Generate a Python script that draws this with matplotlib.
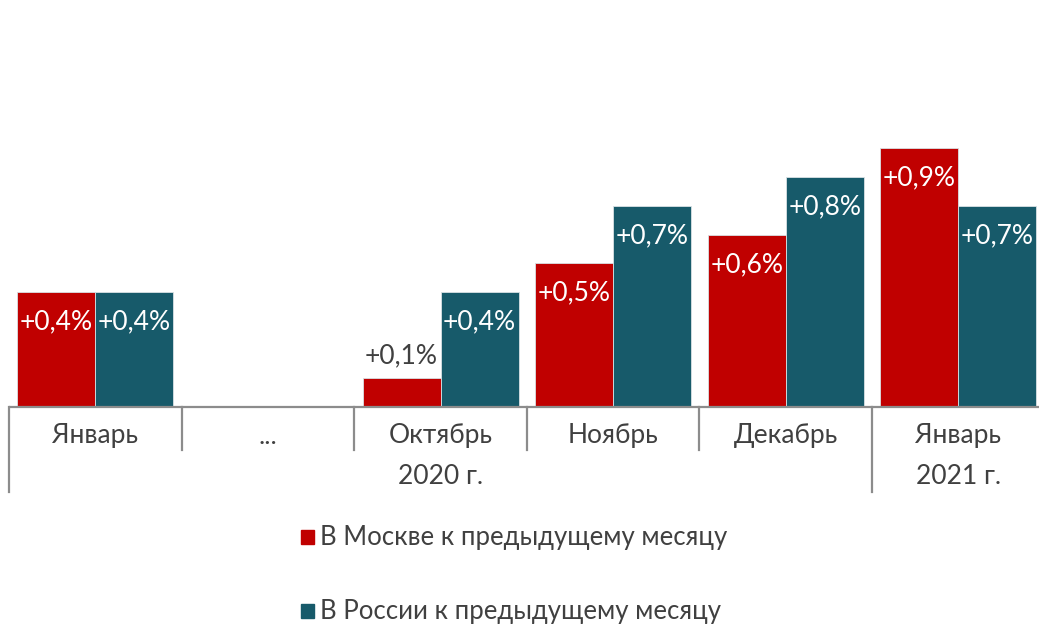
import matplotlib
matplotlib.use("Agg")
import matplotlib.pyplot as plt
import matplotlib.transforms as mtransforms
import numpy as np

categories = ["Январь", "...", "Октябрь", "Ноябрь", "Декабрь", "Январь"]
years = ["2020 г.", "2021 г."]
year_spans = [(0, 4), (5, 5)]
moscow = [0.4, None, 0.1, 0.5, 0.6, 0.9]
russia = [0.4, None, 0.4, 0.7, 0.8, 0.7]
series_names = ["В Москве к предыдущему месяцу", "В России к предыдущему месяцу"]

RED = "#C00000"
TEAL = "#175A6A"
GRAY = "#404040"
LINE = "#8C8C8C"

plt.rcParams['font.family'] = ['Lato', 'DejaVu Sans']
FW = "normal"

W, H = 1039, 625
fig = plt.figure(figsize=(W / 100, H / 100), dpi=100)
slot = 172.6
ax = fig.add_axes([9 / W, 1 - 407 / H, 6 * slot / W, 407 / H])
ax.set_xlim(-0.5, 5.5)
ax.set_ylim(0, 407 / 287.5)
ax.axis("off")

bw = 78 / slot
off = 39 / slot
x = np.arange(len(categories))

def fmt(v):
    return "+" + f"{v:.1f}".replace(".", ",") + "%"

for vals, color, sign in [(moscow, RED, -1), (russia, TEAL, 1)]:
    for i, v in enumerate(vals):
        if v is None:
            continue
        xc = x[i] + sign * off
        ax.bar(xc, v, width=bw, color=color, edgecolor="#D9E1E4", linewidth=0.6)
        if v >= 0.3:
            ax.annotate(fmt(v), (xc, v), xytext=(0, -30), textcoords="offset pixels",
                        ha="center", va="center", color="white", fontsize=19,
                        fontweight=FW)
        else:
            ax.annotate(fmt(v), (xc, v), xytext=(0, 22), textcoords="offset pixels",
                        ha="center", va="center", color=GRAY, fontsize=19,
                        fontweight=FW)

# axis line
trans = mtransforms.blended_transform_factory(ax.transData, fig.transFigure)
y0 = 1 - 407 / H
ax.plot([-0.5, 5.5], [y0, y0], transform=trans, color=LINE, lw=1.6, clip_on=False,
        solid_capstyle="butt")
long_sep = {-0.5, 4.5}
for b in np.arange(-0.5, 5.6, 1.0):
    y1 = 1 - (492 if b in long_sep else 450) / H
    ax.plot([b, b], [y0, y1], transform=trans, color=LINE, lw=1.6, clip_on=False)

for i, c in enumerate(categories):
    ax.text(x[i], 1 - 436 / H, c, transform=trans, ha="center", va="center",
            color=GRAY, fontsize=19, fontweight=FW)
for (a, b), yl in zip(year_spans, years):
    ax.text((a + b) / 2, 1 - 476 / H, yl, transform=trans, ha="center", va="center",
            color=GRAY, fontsize=19, fontweight=FW)

# legend
for yy, color, name in [(537, RED, series_names[0]), (611, TEAL, series_names[1])]:
    fig.patches.append(plt.Rectangle((301 / W, 1 - (yy + 7) / H), 13 / W, 14 / H,
                                     transform=fig.transFigure, color=color))
    fig.text(320 / W, 1 - yy / H, name, ha="left", va="center", color=GRAY,
             fontsize=18.5, fontweight=FW)

fig.savefig("out.png", dpi=100)
